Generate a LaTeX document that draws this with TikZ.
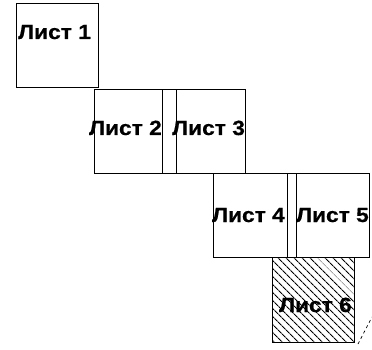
\documentclass[tikz,border=0pt]{standalone}
\usepackage{fontspec}
\setmainfont{Liberation Sans}
\newfontfamily\sheetfont[FakeStretch=1.11, FakeBold=0.6]{Liberation Sans Bold}
\usetikzlibrary{patterns.meta}
\begin{document}
\begin{tikzpicture}[x=1pt, y=-1pt,
  sh/.style={draw, line width=0.8pt, inner sep=0pt, outer sep=0pt, minimum width=82pt, minimum height=84pt},
  lbl/.style={inner sep=0pt, font=\fontsize{20.5}{21}\sheetfont}]
  \useasboundingbox (0,0) rectangle (372,350);
  \node[sh] (s1) at (57,45) {};
  \node[sh] (s2) at (135,131) {};
  \node[sh, minimum width=83pt] (s3) at (203.5,131) {};
  \node[sh, minimum width=83pt] (s4) at (254.5,215) {};
  \node[sh] (s5) at (328,215) {};
  \node[sh, minimum height=85pt, pattern={Lines[angle=-45, distance=5.4pt, line width=1.2pt]}] (s6) at (313,299.5) {};
  \node[lbl, anchor=base west] (t1) at (18,39) {Лист 1};
  \node[lbl, anchor=base east] (t2) at (162,135) {Лист 2};
  \node[lbl, anchor=base west] (t3) at (172,135) {Лист 3};
  \node[lbl, anchor=base east] (t4) at (285,222) {Лист 4};
  \node[lbl, anchor=base east] (t5) at (369,222) {Лист 5};
  \node[lbl, anchor=base east] (t6) at (352,312) {Лист 6};
  \coordinate (c1) at (358,344);
  \coordinate (c2) at (372,317);
  \draw[dashed, line width=0.7pt] (c1) -- (c2);
\end{tikzpicture}
\end{document}
